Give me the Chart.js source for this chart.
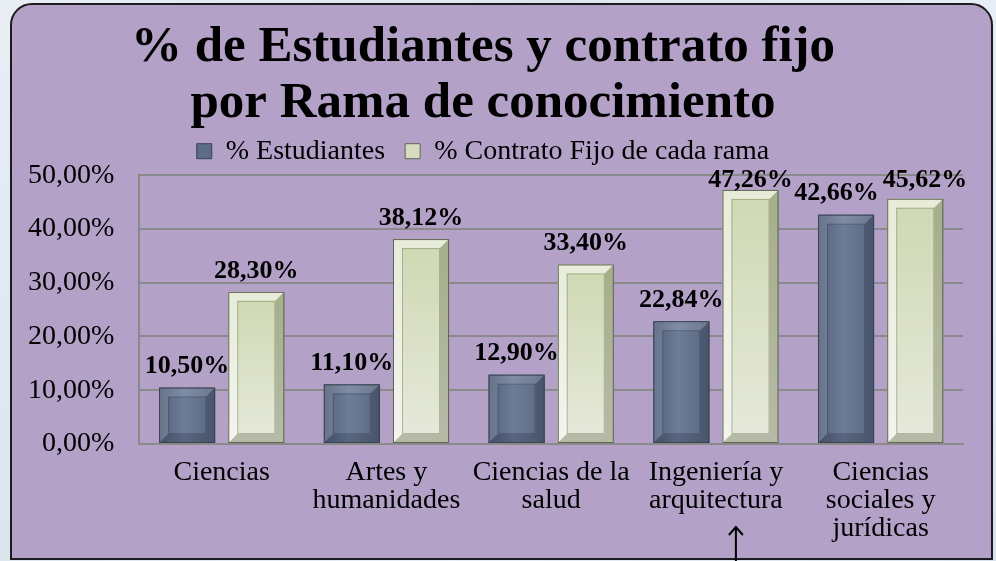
<!DOCTYPE html>
<html>
<head>
<meta charset="utf-8">
<title>% de Estudiantes y contrato fijo por Rama de conocimiento</title>
<script src="https://cdn.jsdelivr.net/npm/chart.js@4.4.0/dist/chart.umd.min.js"></script>
<style>
	html, body { margin: 0; padding: 0; }
	body {
		width: 996px; height: 561px; overflow: hidden; position: relative;
		background: linear-gradient(135deg, #e9eef5 0%, #dde5ef 35%, #e7edf4 65%, #d8e1ec 100%);
	}
	.panel {
		position: absolute; left: 10px; top: 3px; width: 979px; height: 553px;
		background: #b3a1c8; border: 2px solid #1c1c1c; border-radius: 22px 22px 0 0;
	}
	.wrap { position: absolute; left: 0; top: 0; width: 996px; height: 561px; }
</style>
</head>
<body>
<div class="panel"></div>
<div class="wrap"><canvas id="rama-chart" width="996" height="561"></canvas></div>
<script>
	// Data
	var categories = [
		['Ciencias'],
		['Artes y', 'humanidades'],
		['Ciencias de la', 'salud'],
		['Ingeniería y', 'arquitectura'],
		['Ciencias', 'sociales y', 'jurídicas'],
	];
	var seriesNames = ['% Estudiantes', '% Contrato Fijo de cada rama'];
	var estudiantes = [10.5, 11.1, 12.9, 22.84, 42.66];
	var contratoFijo = [28.3, 38.12, 33.4, 47.26, 45.62];
	var yMin = 0;
	var yMax = 50;
	var yStep = 10;

	var serif = "'Liberation Serif', 'Times New Roman', serif";
	Chart.defaults.font.family = serif;
	Chart.defaults.color = '#000000';

	function pct(v) {
		return v.toFixed(2).replace('.', ',') + '%';
	}

	function poly(ctx, pts, color) {
		ctx.beginPath();
		ctx.moveTo(pts[0][0], pts[0][1]);
		for (var i = 1; i < pts.length; i++) ctx.lineTo(pts[i][0], pts[i][1]);
		ctx.closePath();
		ctx.fillStyle = color;
		ctx.fill();
	}

	// Bevelled bars (look of the original 3D fills)
	function paintBar(ctx, l, t, r, b, green) {
		var w = r - l, h = b - t;
		var bev = Math.max(2, Math.min(9, w / 6, h / 3));
		var g;
		if (green) {
			g = ctx.createLinearGradient(0, t, 0, b);
			g.addColorStop(0, '#cfd8b2');
			g.addColorStop(1, '#e6e9dc');
		} else {
			g = ctx.createLinearGradient(l, 0, r, 0);
			g.addColorStop(0, '#52607a');
			g.addColorStop(0.45, '#6d7d99');
			g.addColorStop(1, '#58667f');
		}
		ctx.fillStyle = g;
		ctx.fillRect(l, t, w, h);
		var lite = green ? 'rgba(255,255,255,0.5)' : 'rgba(255,255,255,0.12)';
		var dark = green ? 'rgba(70,80,45,0.3)' : 'rgba(20,25,40,0.22)';
		poly(ctx, [[l, t], [r, t], [r - bev, t + bev], [l + bev, t + bev]], lite);
		poly(ctx, [[l, t], [l + bev, t + bev], [l + bev, b - bev], [l, b]], lite);
		poly(ctx, [[r, t], [r, b], [r - bev, b - bev], [r - bev, t + bev]], dark);
		poly(ctx, [[l, b], [l + bev, b - bev], [r - bev, b - bev], [r, b]], dark);
		if (h > 3 * bev) {
			ctx.strokeStyle = green ? 'rgba(110,120,85,0.45)' : 'rgba(30,35,50,0.25)';
			ctx.lineWidth = 1;
			ctx.strokeRect(l + bev + 0.5, t + bev + 0.5, w - 2 * bev - 1, h - 2 * bev - 1);
		}
		ctx.strokeStyle = green ? '#5f6552' : '#3a4252';
		ctx.strokeRect(l + 0.5, t + 0.5, w - 1, h - 1);
	}

	var barLook = {
		id: 'barLook',
		beforeDatasetsDraw: function (chart) {
			var ctx = chart.ctx;
			ctx.save();
			ctx.shadowColor = 'rgba(40,30,55,0.55)';
			ctx.shadowOffsetX = 3;
			ctx.shadowOffsetY = 2;
			ctx.shadowBlur = 4;
		},
		afterDatasetsDraw: function (chart) {
			var ctx = chart.ctx;
			ctx.restore();
			ctx.save();
			chart.data.datasets.forEach(function (ds, i) {
				chart.getDatasetMeta(i).data.forEach(function (bar) {
					paintBar(ctx, bar.x - bar.width / 2, bar.y, bar.x + bar.width / 2, bar.base, i === 1);
				});
			});

			// Value labels
			var area = chart.chartArea;
			ctx.font = 'bold 26px ' + serif;
			ctx.textAlign = 'center';
			ctx.textBaseline = 'middle';
			ctx.fillStyle = '#000000';
			var labels = [];
			chart.data.datasets.forEach(function (ds, i) {
				chart.getDatasetMeta(i).data.forEach(function (bar, j) {
					var txt = pct(ds.data[j]);
					labels.push({
						txt: txt,
						x: bar.x,
						y: Math.max(bar.y - 21, area.top + 5),
						w: ctx.measureText(txt).width,
						h: 22,
					});
				});
			});
			labels.sort(function (a, b) { return a.x - b.x; });
			for (var i = 0; i < labels.length; i++) {
				for (var k = 0; k < i; k++) {
					var a = labels[k], b = labels[i];
					var ox = (a.x + a.w / 2) - (b.x - b.w / 2);
					var oy = Math.abs(a.y - b.y) < (a.h + b.h) / 2;
					if (ox > 0 && oy) {
						a.x -= (ox + 4) / 2;
						b.x += (ox + 4) / 2;
					}
				}
			}
			labels.forEach(function (lb) {
				ctx.fillText(lb.txt, lb.x, lb.y);
			});
			ctx.restore();
		},
		afterDraw: function (chart) {
			// arrow pointing at "arquitectura"
			var ctx = chart.ctx;
			var x = chart.scales.x.getPixelForValue(3) + 20;
			ctx.save();
			ctx.strokeStyle = '#000000';
			ctx.lineWidth = 2;
			ctx.beginPath();
			ctx.moveTo(x, 561);
			ctx.lineTo(x, 527);
			ctx.moveTo(x - 7, 535);
			ctx.lineTo(x, 527);
			ctx.lineTo(x + 7, 535);
			ctx.stroke();
			ctx.restore();
		},
	};

	var ctx1 = document.getElementById('rama-chart').getContext('2d');
	var myChart1 = new Chart(ctx1, {
		type: 'bar',
		data: {
			labels: categories,
			datasets: [
				{
					label: seriesNames[0],
					data: estudiantes,
					backgroundColor: '#5d6c87',
					borderColor: '#3a4252',
					borderWidth: 1,
				},
				{
					label: seriesNames[1],
					data: contratoFijo,
					backgroundColor: '#d5dcc0',
					borderColor: '#5f6552',
					borderWidth: 1,
				},
			],
		},
		options: {
			responsive: false,
			animation: false,
			categoryPercentage: 0.84,
			barPercentage: 0.81,
			layout: {
				padding: { top: 0, left: 3, right: 33, bottom: 3 },
			},
			plugins: {
				title: {
					display: true,
					text: ['% de Estudiantes y contrato fijo', 'por Rama de conocimiento'],
					font: { size: 51, weight: 'bold', lineHeight: 1.1 },
					color: '#000000',
					padding: { top: 20, bottom: -15 },
				},
				legend: {
					labels: {
						font: { size: 28 },
						color: '#000000',
						boxWidth: 15,
						boxHeight: 15,
						padding: 20,
					},
				},
				tooltip: { enabled: false },
			},
			scales: {
				x: {
					grid: { display: false, drawTicks: false },
					border: { display: true, color: '#8a8a8a', width: 2 },
					ticks: {
						font: { size: 28, lineHeight: 1.0 },
						color: '#000000',
						padding: 15,
						maxRotation: 0,
						autoSkip: false,
					},
				},
				y: {
					min: yMin,
					max: yMax,
					ticks: {
						stepSize: yStep,
						font: { size: 28 },
						color: '#000000',
						padding: 25,
						callback: function (v) {
							return pct(v);
						},
					},
					grid: { color: '#8a8a8a', lineWidth: 2, drawTicks: false },
					border: { display: true, color: '#8a8a8a', width: 2 },
				},
			},
		},
		plugins: [barLook],
	});
</script>
</body>
</html>
